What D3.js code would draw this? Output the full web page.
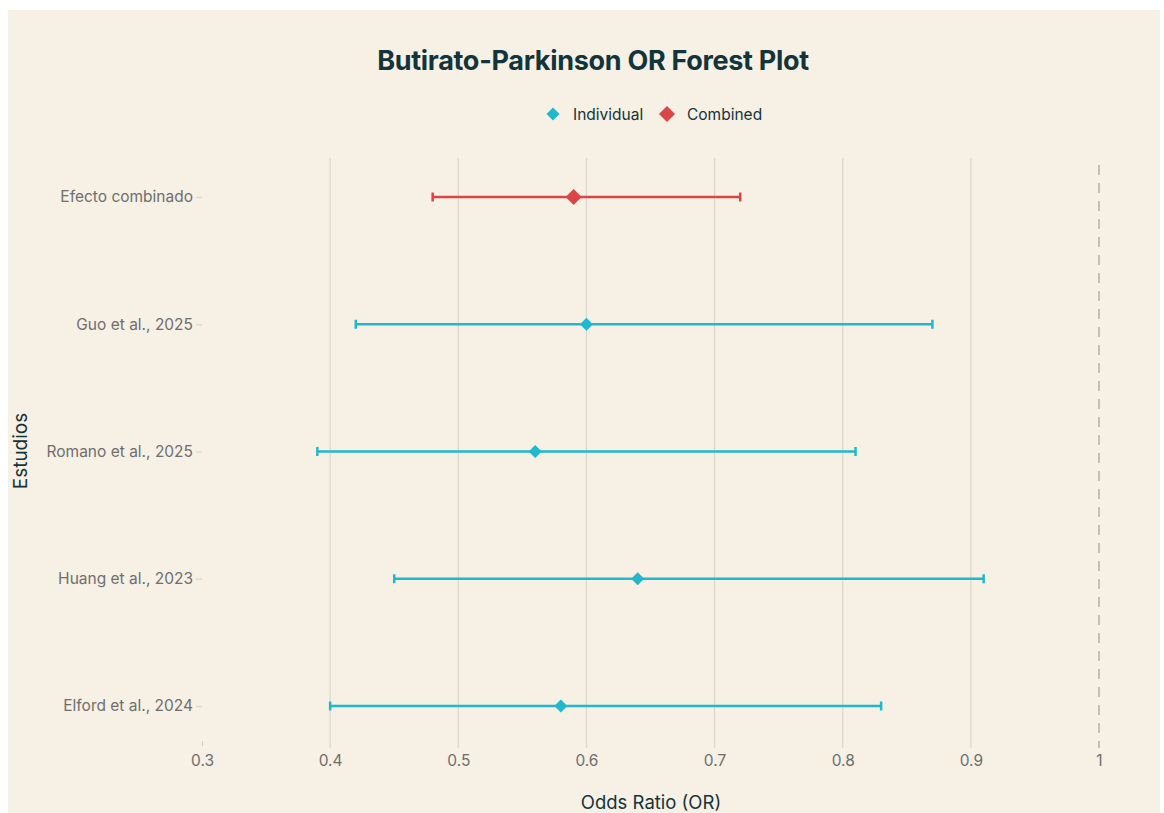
<!DOCTYPE html>
<html>
<head>
<meta charset="utf-8">
<script src="https://cdn.jsdelivr.net/npm/d3@7"></script>
<style>
  html, body { margin: 0; padding: 0; background: #ffffff; }
  svg { display: block; }
  text { font-family: Inter, "Liberation Sans", Arial, sans-serif; }
</style>
</head>
<body>
<div id="chart"></div>
<script>
// ---- data ----
const studies = ["Efecto combinado", "Guo et al., 2025", "Romano et al., 2025", "Huang et al., 2023", "Elford et al., 2024"];
const oddsRatio = [0.59, 0.60, 0.56, 0.64, 0.58];
const ciLower = [0.48, 0.42, 0.39, 0.45, 0.40];
const ciUpper = [0.72, 0.87, 0.81, 0.91, 0.83];
const groups = ["Combined", "Individual", "Individual", "Individual", "Individual"];
const xTicks = [0.3, 0.4, 0.5, 0.6, 0.7, 0.8, 0.9, 1];
const legendItems = ["Individual", "Combined"];
const referenceOR = 1;

const rows = studies.map((s, i) => ({ study: s, or: oddsRatio[i], lo: ciLower[i], hi: ciUpper[i], group: groups[i] }));

const W = 1164, H = 813;
const colors = { Individual: "#1FB8CD", Combined: "#DB4545" };
const bg = "#F6F0E5";

const svg = d3.select("#chart").append("svg").attr("width", W).attr("height", H);

// card background
svg.append("rect").attr("x", 8).attr("y", 10).attr("width", 1152).attr("height", 803).attr("fill", bg);

const x = d3.scaleLinear().domain([0.3, 1]).range([202, 1099]);
const y = d3.scalePoint().domain(studies).range([197, 706]);

const plotTop = 158, plotBottom = 748;

// gridlines
svg.append("g").selectAll("line").data(xTicks.filter(t => t !== 0.3 && t !== referenceOR)).join("line")
  .attr("x1", d => x(d)).attr("x2", d => x(d))
  .attr("y1", plotTop).attr("y2", plotBottom)
  .attr("stroke", "#DDD8CD").attr("stroke-width", 1.3);

// reference line at OR=1
svg.append("line")
  .attr("x1", x(referenceOR)).attr("x2", x(referenceOR))
  .attr("y1", 165).attr("y2", plotBottom)
  .attr("stroke", "#A8A89C").attr("stroke-width", 1.3)
  .attr("stroke-dasharray", "10,8");

// x axis (ticks and labels)
const xAxis = d3.axisBottom(x).tickValues(xTicks).tickFormat(d => d3.format("")(d)).tickSize(5).tickPadding(9);
const gx = svg.append("g").attr("transform", `translate(0,${741})`).call(xAxis);
gx.select(".domain").remove();
gx.selectAll(".tick line").attr("stroke", d => d === 0.3 ? "#D6D1C6" : "none");
gx.selectAll(".tick text").attr("fill", "#6E6E6E").attr("font-size", 15.5)
  .style("font-family", "Inter, 'Liberation Sans', Arial, sans-serif");

// y axis
const yAxis = d3.axisLeft(y).tickSize(6).tickPadding(3);
const gy = svg.append("g").attr("transform", `translate(202,0)`).call(yAxis);
gy.select(".domain").remove();
gy.selectAll(".tick line").attr("stroke", "#DDD8CD").attr("stroke-width", 1.3);
gy.selectAll(".tick text").attr("fill", "#6E6E6E").attr("font-size", 15.5)
  .style("font-family", "Inter, 'Liberation Sans', Arial, sans-serif");

// error bars
const eb = svg.append("g").selectAll("g").data(rows).join("g");
eb.append("line")
  .attr("x1", d => x(d.lo)).attr("x2", d => x(d.hi))
  .attr("y1", d => y(d.study)).attr("y2", d => y(d.study))
  .attr("stroke", d => colors[d.group]).attr("stroke-width", 2.5);
eb.append("line")
  .attr("x1", d => x(d.lo)).attr("x2", d => x(d.lo))
  .attr("y1", d => y(d.study) - 4.5).attr("y2", d => y(d.study) + 4.5)
  .attr("stroke", d => colors[d.group]).attr("stroke-width", 2.5);
eb.append("line")
  .attr("x1", d => x(d.hi)).attr("x2", d => x(d.hi))
  .attr("y1", d => y(d.study) - 4.5).attr("y2", d => y(d.study) + 4.5)
  .attr("stroke", d => colors[d.group]).attr("stroke-width", 2.5);

// markers (diamonds)
const diamond = r => `M0,${-r}L${r},0L0,${r}L${-r},0Z`;
eb.append("path")
  .attr("d", d => diamond(d.group === "Combined" ? 8 : 6.5))
  .attr("transform", d => `translate(${x(d.or)},${y(d.study)})`)
  .attr("fill", d => colors[d.group]);

// title
svg.append("text").attr("x", 593).attr("y", 70).attr("text-anchor", "middle")
  .attr("font-size", 27).attr("font-weight", 700).attr("fill", "#13343B")
  .attr("letter-spacing", -0.3)
  .text("Butirato-Parkinson OR Forest Plot");

// legend
const legendX = [553, 667];
const lg = svg.append("g").selectAll("g").data(legendItems).join("g")
  .attr("transform", (d, i) => `translate(${legendX[i]},114)`);
lg.append("path").attr("d", d => diamond(d === "Combined" ? 8 : 6.5)).attr("fill", d => colors[d]);
lg.append("text").attr("x", 20).attr("y", 5.5).attr("font-size", 15.5).attr("fill", "#13343B").text(d => d);

// axis titles
svg.append("text").attr("x", 651).attr("y", 809).attr("text-anchor", "middle")
  .attr("font-size", 18.5).attr("fill", "#13343B").text("Odds Ratio (OR)");
svg.append("text").attr("transform", "translate(27,451) rotate(-90)").attr("text-anchor", "middle")
  .attr("font-size", 19).attr("fill", "#13343B").text("Estudios");
</script>
</body>
</html>
